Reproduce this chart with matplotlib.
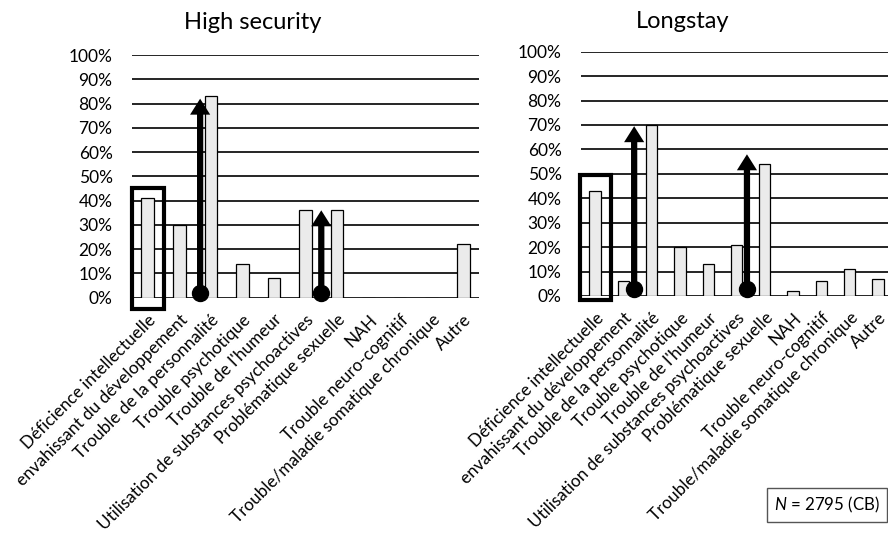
import matplotlib.pyplot as plt
from matplotlib.patches import Rectangle

plt.rcParams['font.family'] = ['Lato', 'DejaVu Sans']
plt.rcParams['mathtext.fontset'] = 'custom'
plt.rcParams['mathtext.it'] = 'Lato:italic'
plt.rcParams['mathtext.rm'] = 'Lato'

categories = ['Déficience intellectuelle',
              'envahissant du développement',
              'Trouble de la personnalité',
              'Trouble psychotique',
              "Trouble de l'humeur",
              'Utilisation de substances psychoactives',
              'Problématique sexuelle',
              'NAH',
              'Trouble neuro-cognitif',
              'Trouble/maladie somatique chronique',
              'Autre']
high_security = [41, 30, 83, 14, 8, 36, 36, 0, 0, 0, 22]
longstay = [43, 6, 70, 20, 13, 21, 54, 2, 6, 11, 7]
yticks = list(range(0, 101, 10))

# arrows: (x position, start %, tip %)
hs_arrows = [(1.66, 2, 82), (5.5, 2, 36)]
ls_arrows = [(1.38, 3, 69.5), (5.37, 3, 58)]
# highlight box: (x0, y0, width, height) in data units
hs_box = (-0.5, -4.5, 1.0, 49.5)
ls_box = (-0.55, -1.5, 1.1, 51.2)

W, H = 888, 533
fig = plt.figure(figsize=(W / 100, H / 100), dpi=100)


def px_axes(x0, x1, y_top, y_bot):
    return fig.add_axes([x0 / W, 1 - y_bot / H, (x1 - x0) / W, (y_bot - y_top) / H])


def draw(ax, values, title, arrows, box, title_x, title_pad):
    x = list(range(len(categories)))
    for yv in yticks:
        ax.axhline(yv, color='black', lw=1.2, zorder=1)
    ax.bar(x, values, width=0.4, facecolor='#ebebeb', edgecolor='black',
           lw=0.9, zorder=2)
    ax.set_xlim(-0.5, len(categories) - 0.5)
    ax.set_ylim(0, 100)
    ax.set_yticks(yticks)
    ax.set_yticklabels([f'{v}%' for v in yticks], fontsize=12.5)
    ax.set_xticks(x)
    ax.set_xticklabels(categories, rotation=45, ha='right',
                       rotation_mode='anchor', fontsize=12.3)
    ax.tick_params(axis='x', length=0, pad=10)
    ax.tick_params(axis='y', length=0, pad=14)
    for s in ax.spines.values():
        s.set_visible(False)
    ax.set_title(title, fontsize=17, x=title_x, pad=title_pad)

    for xa, y0, y1 in arrows:
        ax.annotate('', xy=(xa, y1), xytext=(xa, y0),
                    arrowprops=dict(arrowstyle='simple,head_length=1.15,head_width=1.45,tail_width=0.45',
                                    lw=0, color='black', shrinkA=0, shrinkB=0,
                                    mutation_scale=10),
                    zorder=4)
        ax.plot([xa], [y0], 'o', color='black', ms=11.5, zorder=5, clip_on=False)

    ax.add_patch(Rectangle(box[:2], box[2], box[3], fill=False,
                           edgecolor='black', lw=3, zorder=3, clip_on=False))


ax1 = px_axes(132, 479, 55, 297.7)
draw(ax1, high_security, 'High security', hs_arrows, hs_box, 0.349, 19)

ax2 = px_axes(581, 892, 51.7, 296)
draw(ax2, longstay, 'Longstay', ls_arrows, ls_box, 0.328, 17)

fig.text(774 / W, 1 - 505 / H, r'$N$ = 2795 (CB)', fontsize=12.2, va='center',
         bbox=dict(boxstyle='square,pad=0.4', facecolor='white',
                   edgecolor='#555555', lw=1))

fig.savefig('out.png', dpi=100)
